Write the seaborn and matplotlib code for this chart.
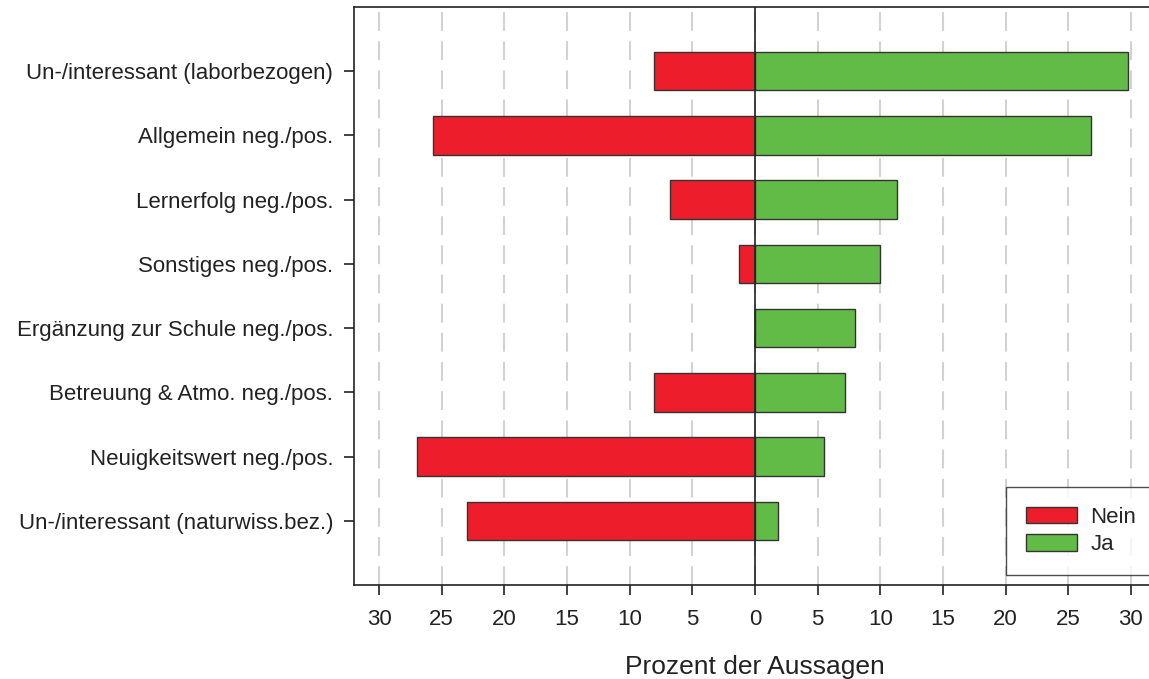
import numpy as np
import pandas as pd
import seaborn as sns
import matplotlib
matplotlib.use("Agg")
import matplotlib.pyplot as plt
from matplotlib.patches import Patch

categories = [
    "Un-/interessant (laborbezogen)",
    "Allgemein neg./pos.",
    "Lernerfolg neg./pos.",
    "Sonstiges neg./pos.",
    "Ergänzung zur Schule neg./pos.",
    "Betreuung & Atmo. neg./pos.",
    "Neuigkeitswert neg./pos.",
    "Un-/interessant (naturwiss.bez.)",
]
nein = [8.1, 25.7, 6.8, 1.3, 0.0, 8.1, 27.0, 23.0]
ja = [29.8, 26.8, 11.3, 10.0, 8.0, 7.2, 5.5, 1.8]
tick_values = [-30, -25, -20, -15, -10, -5, 0, 5, 10, 15, 20, 25, 30]
tick_labels = [str(abs(v)) for v in tick_values]

red = "#EE1D2B"
green = "#63BB47"

sns.set_theme(style="white")
plt.rcParams["font.family"] = ["Liberation Sans", "DejaVu Sans"]

fig = plt.figure(figsize=(11.49, 6.79), dpi=100)
ax = fig.add_axes([0.3081, 0.1384, 0.698, 0.8513])

df = pd.DataFrame({"cat": categories, "nein": [-v for v in nein], "ja": ja})

for xv in tick_values:
    ax.axvline(xv, color="#d2d2d2", lw=1.5, ls=(0, (9, 5)), zorder=0)

sns.barplot(data=df, x="nein", y="cat", orient="h", color=red, width=0.6,
            edgecolor="#333333", linewidth=1.0, saturation=1, ax=ax, zorder=2)
sns.barplot(data=df, x="ja", y="cat", orient="h", color=green, width=0.6,
            edgecolor="#333333", linewidth=1.0, saturation=1, ax=ax, zorder=2)

ax.axvline(0, color="#222222", lw=1.2, zorder=3)

ax.set_xlim(-32, 32)
ax.set_ylim(len(categories) - 1 + 1.0, -1.0)
ax.set_xticks(tick_values)
ax.set_xticklabels(tick_labels, fontsize=16, color="#222222")
ax.set_yticks(range(len(categories)))
ax.set_yticklabels(categories, fontsize=16, color="#222222")
ax.set_ylabel("")
ax.set_xlabel("Prozent der Aussagen", fontsize=19, color="#222222", labelpad=18)

for s in ["left", "bottom", "top"]:
    ax.spines[s].set_visible(True)
    ax.spines[s].set_color("#222222")
    ax.spines[s].set_linewidth(1.2)
ax.spines["right"].set_visible(False)

ax.tick_params(axis="both", which="major", direction="out", length=7, width=1.2,
               color="#222222", bottom=True, left=True)
ax.tick_params(axis="x", pad=10)
ax.tick_params(axis="y", pad=8)

handles = [Patch(facecolor=red, edgecolor="#333333", label="Nein"),
           Patch(facecolor=green, edgecolor="#333333", label="Ja")]
leg = ax.legend(handles=handles, loc="lower left", bbox_to_anchor=(0.813, 0.017),
                fontsize=16, frameon=True, fancybox=False, edgecolor="#222222",
                handlelength=2.3, handleheight=0.75, borderpad=0.9, labelspacing=0.3,
                handletextpad=0.6, borderaxespad=0)
leg.get_frame().set_linewidth(1.0)
leg.get_frame().set_facecolor("white")

fig.savefig("out.png", dpi=100)
